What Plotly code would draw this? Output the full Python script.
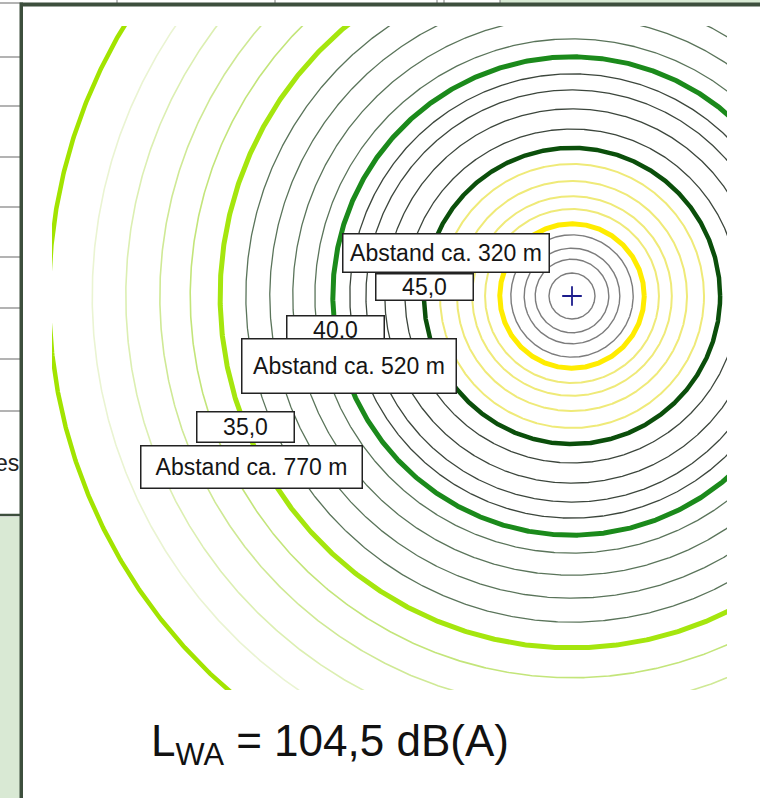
import numpy as np
import plotly.graph_objects as go

# ---------------- data ----------------
# noise level of each iso-line (dB(A)) and its distance from the source (m)
levels_db = [54, 53, 52, 51, 50, 49, 48, 47, 46, 45, 44, 43, 42, 41, 40,
             39, 38, 37, 36, 35, 34, 33, 32, 31, 30]
radii_m = [50, 80, 104, 133, 157, 189, 217, 250, 287, 322, 363, 407, 448, 483, 520,
           559, 607, 657, 709, 765, 830, 896, 970, 1043, 1137]
source_x = [0]
source_y = [0]
label_levels = ["45,0", "40,0", "35,0"]
label_dist = ["Abstand ca. 320 m", "Abstand ca. 520 m", "Abstand ca. 770 m"]
title_text = "L<sub>WA</sub> = 104,5 dB(A)"
side_text = "es"

# ---------------- styles ----------------
def ring_style(db):
    if db >= 51:
        return "#7c7c7c", 1.4
    if db == 50:
        return "#ffec00", 5
    if db >= 46:
        return "#efea78", 2
    if db == 45:
        return "#0b4f0b", 4.5
    if db >= 41:
        return "#3c463c", 1.3
    if db == 40:
        return "#1b8a1b", 5
    if db >= 36:
        return "#5a745a", 1.3
    if db == 35:
        return "#a5e60e", 5
    if db == 30:
        return "#a2e400", 4.5
    return {34: "#c3e57a", 33: "#cfe995", 32: "#dcefb2", 31: "#eaf4d2"}[db], 1.6

W, H = 760, 798
CX, CY = 572, 296          # pixel position of the source
S = 0.46                   # pixels per metre
L, R, T, B = 52, 727, 26, 690   # plot area in pixels

def px2paper_x(px):
    return (px - L) / (R - L)

def px2paper_y(py):
    return (B - py) / (B - T)

fig = go.Figure()
theta = np.linspace(0, 2 * np.pi, 1441)
for db, r in zip(levels_db, radii_m):
    col, wid = ring_style(db)
    fig.add_trace(go.Scatter(
        x=r * np.cos(theta), y=r * np.sin(theta), mode="lines",
        line=dict(color=col, width=wid), hoverinfo="skip", showlegend=False))

fig.add_trace(go.Scatter(
    x=source_x, y=source_y, mode="markers",
    marker=dict(symbol="cross-thin", size=14, line=dict(color="#1c1c8c", width=1.8)),
    hoverinfo="skip", showlegend=False))

# ---------------- decoration (frame of the surrounding document) ----------------
shapes = []
def rect(x0, y0, x1, y1, fill):
    shapes.append(dict(type="rect", xref="paper", yref="paper",
                       x0=px2paper_x(x0), x1=px2paper_x(x1),
                       y0=px2paper_y(y0), y1=px2paper_y(y1),
                       fillcolor=fill, line=dict(width=0), layer="above"))

def hline(x0, x1, y, col, w):
    shapes.append(dict(type="line", xref="paper", yref="paper",
                       x0=px2paper_x(x0), x1=px2paper_x(x1),
                       y0=px2paper_y(y), y1=px2paper_y(y),
                       line=dict(color=col, width=w), layer="above"))

def vline(x, y0, y1, col, w):
    shapes.append(dict(type="line", xref="paper", yref="paper",
                       x0=px2paper_x(x), x1=px2paper_x(x),
                       y0=px2paper_y(y0), y1=px2paper_y(y1),
                       line=dict(color=col, width=w), layer="above"))

# top strip above the frame
rect(500, 0, 760, 3, "#d8ead4")
for vx in [117, 275, 437, 444, 500]:
    vline(vx, 0, 3, "#7a7a7a", 1)
hline(0, 20, 3, "#9a9a9a", 1.5)
# table rows left of the frame
for ty in [57, 106, 157, 207, 257, 308, 359, 411]:
    hline(0, 20, ty, "#9a9a9a", 1.5)
# bottom-left panel
rect(0, 517, 20, 798, "#d9e9d4")
hline(0, 20, 515, "#3d4f3d", 2.5)
# frame
rect(20, 2.5, 760, 6.5, "#3d4f3d")
rect(19.5, 2.5, 23, 798, "#3d4f3d")

annotations = []
def box(text, x0, y0, x1, y1):
    annotations.append(dict(
        text=text, xref="paper", yref="paper",
        x=px2paper_x((x0 + x1) / 2), y=px2paper_y((y0 + y1) / 2),
        xanchor="center", yanchor="middle", showarrow=False,
        width=(x1 - x0) - 3, height=(y1 - y0) - 3,
        borderpad=0, borderwidth=1.5, bordercolor="#222222", bgcolor="#ffffff",
        font=dict(family="Liberation Sans, Arial, sans-serif", size=23, color="#151515")))

box(label_dist[0], 342, 233, 550, 273)
box(label_levels[0], 375, 273, 474, 301)
box(label_levels[1], 286, 315, 385, 345)
box(label_dist[1], 241, 338, 457, 394)
box(label_levels[2], 196, 411, 295, 443)
box(label_dist[2], 140, 445, 363, 489)

annotations.append(dict(
    text=title_text, xref="paper", yref="paper",
    x=px2paper_x(149), y=px2paper_y(744), xanchor="left", yanchor="middle",
    showarrow=False,
    font=dict(family="Liberation Sans, Arial, sans-serif", size=44, color="#111111")))

annotations.append(dict(
    text=side_text, xref="paper", yref="paper",
    x=px2paper_x(21), y=px2paper_y(463), xanchor="right", yanchor="middle",
    showarrow=False,
    font=dict(family="Liberation Sans, Arial, sans-serif", size=23, color="#222222")))

fig.update_layout(
    width=W, height=H,
    margin=dict(l=L, r=W - R, t=T, b=H - B, pad=0),
    paper_bgcolor="#ffffff", plot_bgcolor="#ffffff",
    xaxis=dict(range=[(L - CX) / S, (R - CX) / S], visible=False, fixedrange=True),
    yaxis=dict(range=[(CY - B) / S, (CY - T) / S], visible=False, fixedrange=True),
    shapes=shapes, annotations=annotations,
    hovermode=False,
)

fig.write_html("out.html", config={"displayModeBar": False},
               post_script="document.body.style.margin='0';document.body.style.overflow='hidden';")
